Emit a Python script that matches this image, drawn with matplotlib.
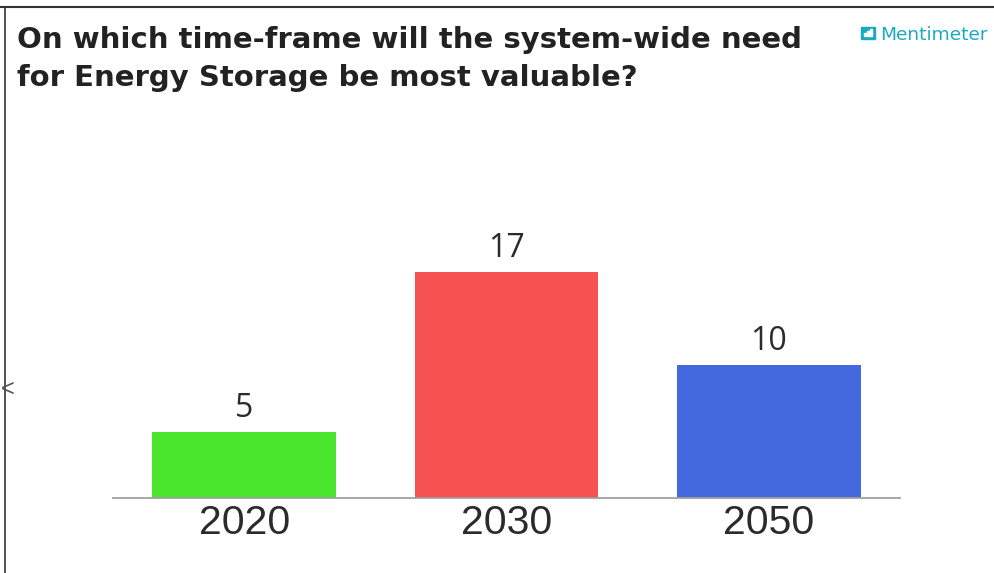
import matplotlib
matplotlib.use("Agg")
import matplotlib.pyplot as plt
from matplotlib.lines import Line2D
from matplotlib.patches import Rectangle

categories = ["2020", "2030", "2050"]
votes = [5, 17, 10]
bar_colors = ["#4ae52d", "#f75252", "#4468dd"]
title = "On which time-frame will the system-wide need\nfor Energy Storage be most valuable?"
brand = "Mentimeter"

W, H = 994, 573
fig = plt.figure(figsize=(W / 100, H / 100), dpi=100)
fig.patch.set_facecolor("white")

# axes placed in pixel units
left_px, right_px, bottom_px, top_px = 113, 900, 498, 150
ax = fig.add_axes([left_px / W, 1 - bottom_px / H,
                   (right_px - left_px) / W, (bottom_px - top_px) / H])
x = list(range(len(categories)))
ax.bar(x, votes, width=0.7, color=bar_colors, zorder=2)
ax.set_xlim(-0.5, len(categories) - 0.5)
ax.set_ylim(0, (bottom_px - top_px) / 13.3)
for xi, v in zip(x, votes):
    ax.text(xi, v + 0.5, str(v), ha="center", va="bottom",
            fontsize=23, color="#2b2b2b", family="Open Sans")
ax.set_xticks(x)
ax.set_xticklabels(categories, fontsize=29.5, color="#2b2b2b",
                   family="Liberation Sans")
ax.tick_params(axis="x", length=0, pad=4)
ax.set_yticks([])
for s in ("left", "right", "top"):
    ax.spines[s].set_visible(False)
ax.spines["bottom"].set_color("#a0a0a0")
ax.spines["bottom"].set_linewidth(1.3)
ax.set_facecolor("none")

# title
line1, line2 = title.split("\n")
fig.text(17 / W, 1 - 48 / H, line1, ha="left", va="baseline",
         fontsize=21, fontweight="bold", color="#222222", family="DejaVu Sans")
fig.text(17 / W, 1 - 86 / H, line2, ha="left", va="baseline",
         fontsize=21, fontweight="bold", color="#222222", family="DejaVu Sans")

# brand mark
brand_color = "#1aa9c3"
fig.patches.append(Rectangle((861 / W, 1 - 39 / H), 14 / W, 12 / H,
                             transform=fig.transFigure, color=brand_color))
for i, hgt in enumerate([3, 5, 7]):
    fig.patches.append(Rectangle(((864 + 3 * i) / W, 1 - 36 / H), 1.6 / W, hgt / H,
                                 transform=fig.transFigure, color="white"))
fig.text(880 / W, 1 - 40 / H, brand, ha="left", va="baseline", fontsize=13.3,
         color=brand_color, family="DejaVu Sans")

# frame edges and side chevron
fig.lines.append(Line2D([0, 1], [1 - 7 / H, 1 - 7 / H], transform=fig.transFigure,
                        color="#333333", linewidth=1.5))
fig.lines.append(Line2D([5 / W, 5 / W], [0, 1 - 7 / H], transform=fig.transFigure,
                        color="#333333", linewidth=1.2))
fig.text(8 / W, 1 - 390 / H, "<", ha="center", va="center", fontsize=17,
         color="#555555", family="Liberation Sans")

fig.savefig("out.png", dpi=100)
